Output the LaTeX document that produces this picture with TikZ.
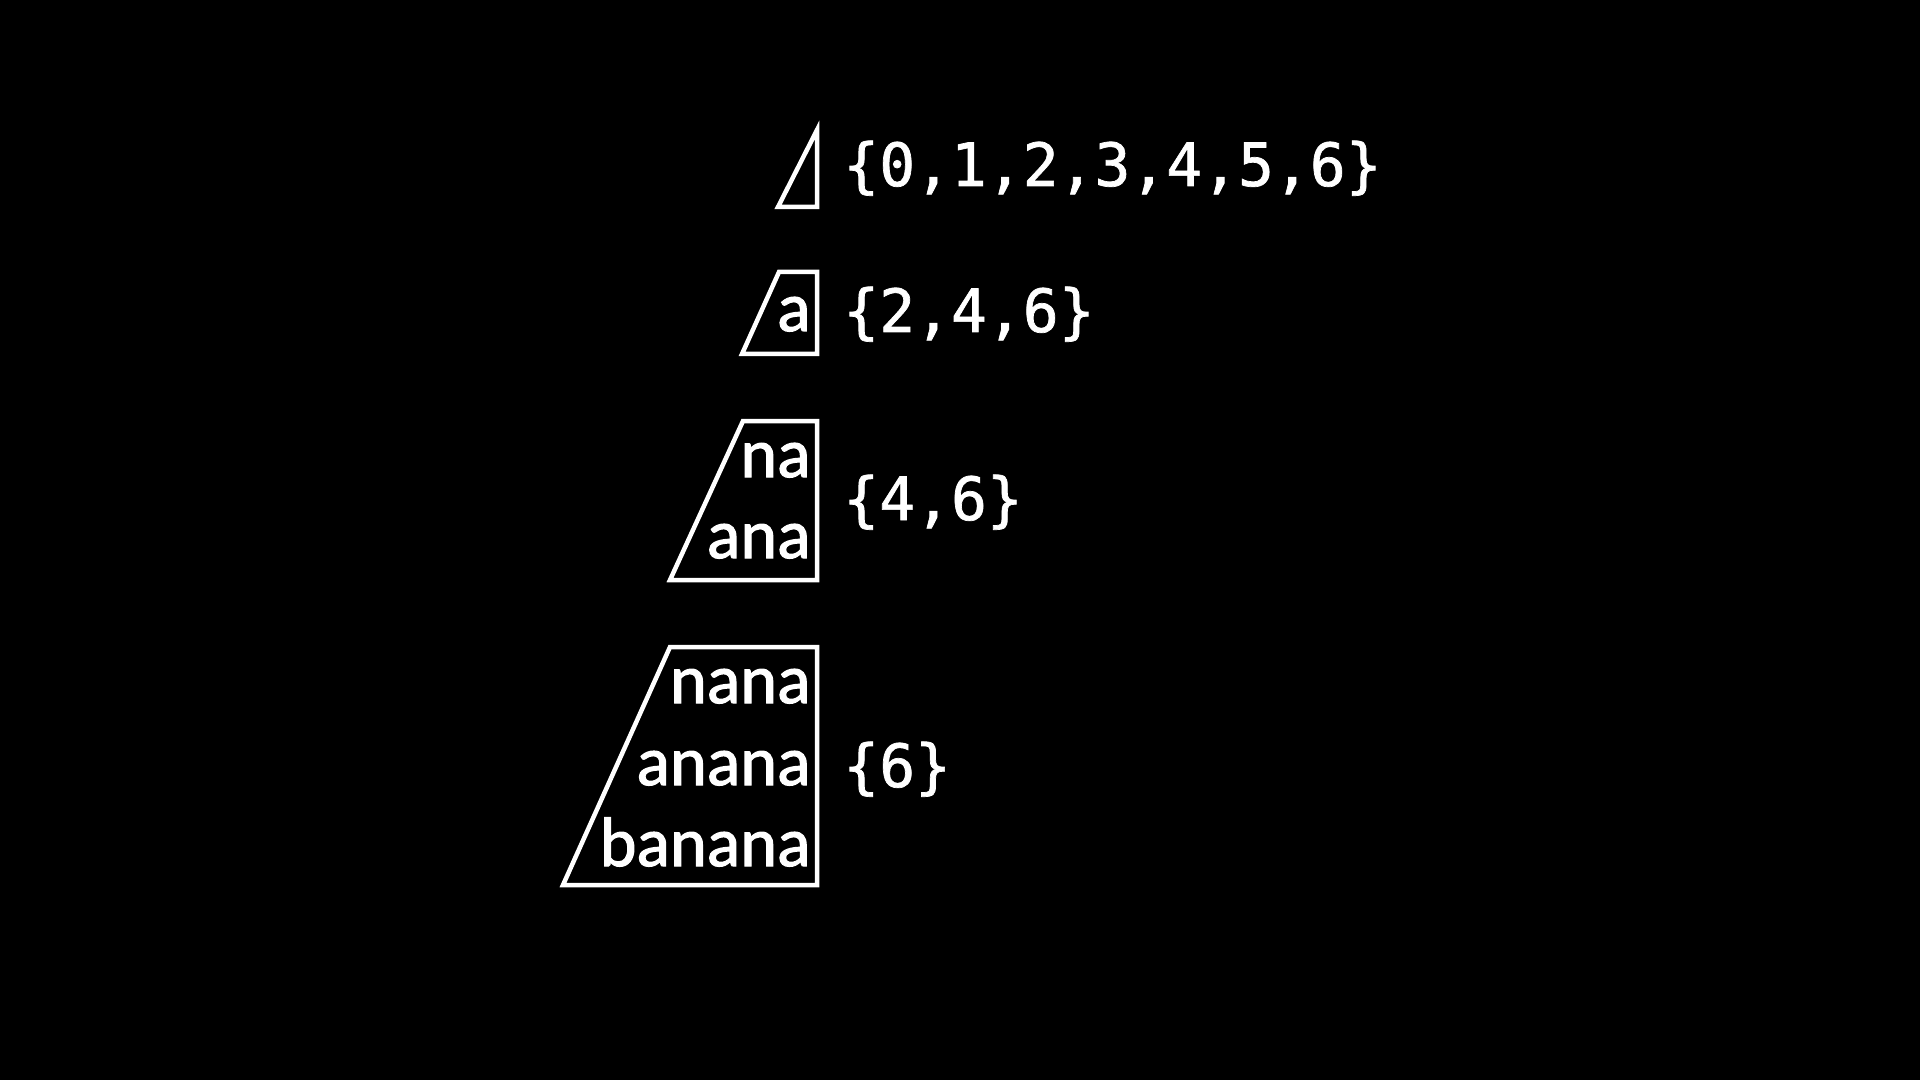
\documentclass[tikz,border=0pt]{standalone}
\usepackage{fontspec}
\setmainfont{Carlito}[FakeBold=1.6]
\newfontfamily\setfont{DejaVu Sans Mono}[FakeBold=1.2]
\begin{document}
\begin{tikzpicture}[x=0.5pt,y=-0.5pt,
  boxline/.style={draw=white,line width=2.25pt,line join=miter},
  word/.style={text=white,anchor=base east,inner sep=0pt,font=\fontsize{35pt}{35pt}\selectfont},
  setlabel/.style={text=white,anchor=base west,inner sep=0pt,font=\setfont\fontsize{29.8pt}{29.8pt}\selectfont}]
\fill[black] (0,0) rectangle (1920,1080);
\useasboundingbox (0,0) rectangle (1920,1080);
% box 1 (empty)
\coordinate (b1t) at (817,130);
\coordinate (b1r) at (817,207);
\coordinate (b1l) at (778,207);
\draw[boxline] (b1t) -- (b1r) -- (b1l) -- cycle;
% box 2
\coordinate (b2tl) at (779,272);
\coordinate (b2tr) at (817,272);
\coordinate (b2br) at (817,354);
\coordinate (b2bl) at (742,354);
\draw[boxline] (b2tl) -- (b2tr) -- (b2br) -- (b2bl) -- cycle;
% box 3
\coordinate (b3tl) at (743,421);
\coordinate (b3tr) at (817,421);
\coordinate (b3br) at (817,580);
\coordinate (b3bl) at (670,580);
\draw[boxline] (b3tl) -- (b3tr) -- (b3br) -- (b3bl) -- cycle;
% box 4
\coordinate (b4tl) at (670,647);
\coordinate (b4tr) at (817,647);
\coordinate (b4br) at (817,885);
\coordinate (b4bl) at (563,885);
\draw[boxline] (b4tl) -- (b4tr) -- (b4br) -- (b4bl) -- cycle;
% words
\node[word] (wa) at (811,331) {a};
\node[word] (wna) at (811,477) {na};
\node[word] (wana) at (811,558) {ana};
\node[word] (wnana) at (811,703) {nana};
\node[word] (wanana) at (811,785) {anana};
\node[word] (wbanana) at (811,866) {banana};
% sets
\node[setlabel] (s1) at (843,186) {\{0,1,2,3,4,5,6\}};
\node[setlabel] (s2) at (843,332) {\{2,4,6\}};
\node[setlabel] (s3) at (843,520) {\{4,6\}};
\node[setlabel] (s4) at (843,787) {\{6\}};
\end{tikzpicture}
\end{document}
